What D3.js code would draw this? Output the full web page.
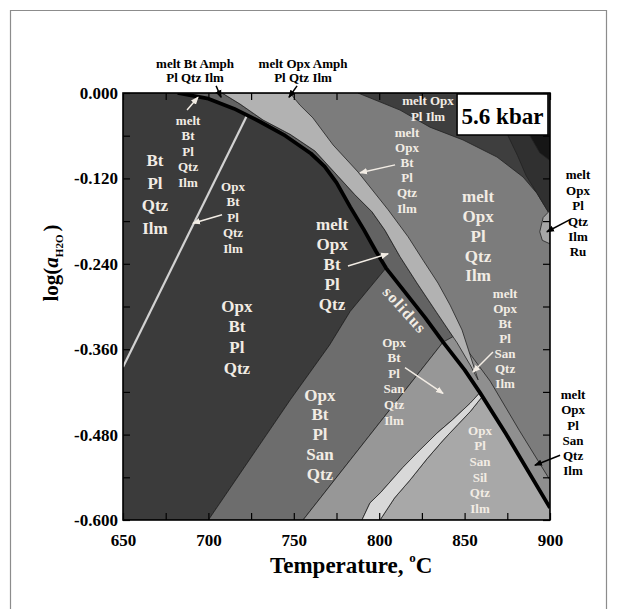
<!DOCTYPE html>
<html>
<head>
<meta charset="utf-8">
<script src="https://cdn.jsdelivr.net/npm/d3@7"></script>
<style>
  body { margin: 0; background: #fff; }
  svg text { font-family: "Liberation Serif", "Times New Roman", serif; font-weight: bold; }
</style>
</head>
<body>
<svg id="chart" width="617" height="609"></svg>
<script>
// ---- axes ----
const tempDomain = [650, 900];
const awDomain = [-0.6, 0];
const tempTicks = [650, 675, 700, 725, 750, 775, 800, 825, 850, 875, 900];
const awTicks = [0, -0.06, -0.12, -0.18, -0.24, -0.30, -0.36, -0.42, -0.48, -0.54, -0.60];
const pressureLabel = "5.6 kbar";

// ---- phase boundaries, [T (°C), log aH2O] ----
const solidusUpper = [[682, 0], [700, -0.008], [715, -0.022], [730, -0.040], [745, -0.060], [760, -0.085],
  [768, -0.103], [775, -0.126], [783, -0.160], [791, -0.192], [798, -0.222], [804, -0.246]];
const solidusLower = [[804, -0.246], [827, -0.316], [837.4, -0.350], [850, -0.389], [859, -0.421],
  [874, -0.478], [900, -0.583]];
const opxInLine = [[804, -0.246], [783, -0.307], [771, -0.354], [748, -0.431], [700, -0.6]];
const sanIlmLine = [[837.4, -0.350], [755.4, -0.6]];
const btMeltLower = [[708, 0], [718.5, -0.0155], [732, -0.038], [747.8, -0.058], [762.4, -0.0815],
  [775.9, -0.117], [785.8, -0.143], [795.8, -0.167], [803.4, -0.193], [812.2, -0.230], [822.1, -0.267],
  [833.8, -0.309], [845.6, -0.351], [853.2, -0.382], [857.9, -0.403]];
const btMeltUpper = [[747.8, 0], [753.6, -0.017], [761.2, -0.035], [773.0, -0.073], [787.6, -0.111],
  [805.2, -0.164], [816.9, -0.202], [825.7, -0.235], [834.4, -0.267], [841.5, -0.298], [848.5, -0.333],
  [853.2, -0.368], [857.9, -0.403]];
const sanMeltEdge = [[845, -0.340], [865, -0.405], [882, -0.474], [900, -0.544]];
const silBandLeft = [[789.9, -0.6], [794.6, -0.576], [801, -0.561], [813.9, -0.526], [822, -0.506],
  [833.8, -0.478], [843, -0.459], [853.2, -0.436], [859, -0.421]];
const silBandRight = [[860.2, -0.427], [853.2, -0.448], [846, -0.466], [837.4, -0.488], [828, -0.514],
  [818, -0.544], [809, -0.569], [800.5, -0.6]];
const plIlmEdge = [[787.6, 0], [812.2, -0.024], [829.7, -0.048], [849.1, -0.066], [869, -0.090],
  [884.2, -0.118], [892.4, -0.141], [898.2, -0.164], [900, -0.171]];
const plIlmInner = [[875, -0.058], [881, -0.088], [886, -0.116], [892.4, -0.141]];
const ruSliver = [[900, -0.165], [896, -0.175], [894, -0.195], [895.5, -0.207], [900, -0.212]];
const ilmThinField = [[650, -0.385], [722.5, -0.032]];

// ---- assemblage names ----
const nmBtPlQtzIlm = ["Bt", "Pl", "Qtz", "Ilm"];
const nmMeltBtPlQtzIlm = ["melt", "Bt", "Pl", "Qtz", "Ilm"];
const nmOpxBtPlQtzIlm = ["Opx", "Bt", "Pl", "Qtz", "Ilm"];
const nmOpxBtPlQtz = ["Opx", "Bt", "Pl", "Qtz"];
const nmMeltOpxBtPlQtz = ["melt", "Opx", "Bt", "Pl", "Qtz"];
const nmMeltOpxBtPlQtzIlm = ["melt", "Opx", "Bt", "Pl", "Qtz", "Ilm"];
const nmMeltOpxPlIlm = ["melt Opx", "Pl Ilm"];
const nmMeltOpxPlQtzIlm = ["melt", "Opx", "Pl", "Qtz", "Ilm"];
const nmMeltOpxBtPlSanQtzIlm = ["melt", "Opx", "Bt", "Pl", "San", "Qtz", "Ilm"];
const nmOpxBtPlSanQtzIlm = ["Opx", "Bt", "Pl", "San", "Qtz", "Ilm"];
const nmOpxBtPlSanQtz = ["Opx", "Bt", "Pl", "San", "Qtz"];
const nmOpxPlSanSilQtzIlm = ["Opx", "Pl", "San", "Sil", "Qtz", "Ilm"];
const nmMeltOpxPlQtzIlmRu = ["melt", "Opx", "Pl", "Qtz", "Ilm", "Ru"];
const nmMeltOpxPlSanQtzIlm = ["melt", "Opx", "Pl", "San", "Qtz", "Ilm"];
const nmMeltBtAmph = ["melt Bt Amph", "Pl Qtz Ilm"];
const nmMeltOpxAmph = ["melt Opx Amph", "Pl Qtz Ilm"];
const solidusName = "solidus";

// ---- drawing ----
const svg = d3.select("#chart");
const x = d3.scaleLinear().domain(tempDomain).range([123, 550]);
const y = d3.scaleLinear().domain(awDomain).range([520, 93]);
const line = d3.line().x(d => x(d[0])).y(d => y(d[1]));
const poly = pts => line(pts) + "Z";

// outer frame of the figure
svg.append("path")
  .attr("d", "M10.5,620V10.5H606.5V620")
  .attr("fill", "none").attr("stroke", "#8c8c8c").attr("stroke-width", 1.2);

const defs = svg.append("defs");
defs.append("clipPath").attr("id", "plotClip")
  .append("rect").attr("x", x(650)).attr("y", y(0)).attr("width", x(900) - x(650)).attr("height", y(-0.6) - y(0));
["white", "black"].forEach(c => {
  defs.append("marker").attr("id", "arrow-" + c)
    .attr("viewBox", "0 -4 8 8").attr("refX", 7).attr("refY", 0)
    .attr("markerUnits", "userSpaceOnUse").attr("markerWidth", 8).attr("markerHeight", 8)
    .attr("orient", "auto")
    .append("path").attr("d", "M0,-3.2L8,0L0,3.2Z").attr("fill", c === "white" ? "#f2ece4" : "#000");
});

const plot = svg.append("g").attr("clip-path", "url(#plotClip)");

// background field: melt Opx Pl Qtz Ilm
plot.append("rect").attr("x", x(650)).attr("y", y(0))
  .attr("width", x(900) - x(650)).attr("height", y(-0.6) - y(0)).attr("fill", "#7c7c7c");

const fields = [
  // melt Opx Bt Pl Qtz band above the solidus
  { pts: solidusUpper.concat(solidusLower.slice(1, 3), btMeltLower.slice(0, 13).reverse()), fill: "#636363" },
  // melt Opx Pl San Qtz Ilm strip
  { pts: sanMeltEdge.concat([[900, -0.583]], solidusLower.slice(2, 6).reverse()), fill: "#8f8f8f" },
  // melt Opx Bt Pl Qtz Ilm band
  { pts: btMeltLower.concat(btMeltUpper.slice(0, -1).reverse()), fill: "#b2b2b2" },
  // melt Opx Pl Ilm, high-T / high-aH2O corner
  { pts: plIlmEdge.concat([[900, 0]]), fill: "#3e3e3e" },
  { pts: plIlmInner.concat(plIlmEdge.slice(7), [[900, -0.058]]), fill: "#303030" },
  { pts: [[888, -0.059], [900, -0.059], [900, -0.095], [894, -0.084]], fill: "#161616" },
  { pts: ruSliver, fill: "#a6a6a6" },
  // sub-solidus Opx-absent field (Bt Pl Qtz (Ilm) and Opx Bt Pl Qtz)
  { pts: [[650, 0]].concat(solidusUpper, opxInLine.slice(1), [[650, -0.6]]), fill: "#3b3b3b" },
  // Opx Bt Pl San Qtz
  { pts: opxInLine.slice().reverse().concat(solidusLower.slice(1, 3), [sanIlmLine[1]]), fill: "#6d6d6d" },
  // Opx Bt Pl San Qtz Ilm
  { pts: [sanIlmLine[1], sanIlmLine[0]].concat(solidusLower.slice(3, 5), silBandLeft.slice().reverse()), fill: "#979797" },
  // Opx Pl San Sil Qtz Ilm
  { pts: silBandRight.slice().reverse().concat(solidusLower.slice(5), [[900, -0.6]]), fill: "#a8a8a8" },
  // narrow light band between them
  { pts: silBandLeft.concat(silBandRight), fill: "#d8d8d8" }
];

plot.selectAll("path.field").data(fields).join("path")
  .attr("class", "field")
  .attr("d", d => poly(d.pts))
  .attr("fill", d => d.fill)
  .attr("stroke", "#222").attr("stroke-width", 0.8).attr("stroke-linejoin", "round");

// degenerate Opx Bt Pl Qtz Ilm field
plot.append("path").attr("d", line(ilmThinField))
  .attr("stroke", "#d2d2d2").attr("stroke-width", 2.2).attr("fill", "none");

// solidus
plot.append("path").attr("d", line(solidusUpper.concat(solidusLower.slice(1))))
  .attr("fill", "none").attr("stroke", "#000").attr("stroke-width", 3.8)
  .attr("stroke-linejoin", "round");

// ---- axes (ticks on all four sides, pointing inward) ----
const fmtY = d => d.toFixed(3);
const axisFont = g => g.attr("font-family", null).attr("font-size", 17)
  .call(s => s.select(".domain").remove())
  .call(s => s.selectAll(".tick line").attr("stroke", "#000").attr("stroke-width", 1.2))
  .call(s => s.selectAll(".tick text").attr("fill", "#000"));

svg.append("g").attr("transform", `translate(0,${y(-0.6)})`)
  .call(d3.axisBottom(x).tickValues(tempTicks).tickSizeInner(-7).tickSizeOuter(0).tickPadding(14)
    .tickFormat((d, i) => i % 2 === 0 ? String(d) : ""))
  .call(axisFont);
svg.append("g").attr("transform", `translate(0,${y(0)})`)
  .call(d3.axisTop(x).tickValues(tempTicks).tickSizeInner(-7).tickSizeOuter(0).tickFormat(""))
  .call(axisFont);
svg.append("g").attr("transform", `translate(${x(650)},0)`)
  .call(d3.axisLeft(y).tickValues(awTicks).tickSizeInner(-7).tickSizeOuter(0).tickPadding(5)
    .tickFormat((d, i) => i % 2 === 0 ? fmtY(d) : ""))
  .call(axisFont);
svg.append("g").attr("transform", `translate(${x(900)},0)`)
  .call(d3.axisRight(y).tickValues(awTicks).tickSizeInner(-7).tickSizeOuter(0).tickFormat(""))
  .call(axisFont);

svg.append("rect").attr("x", x(650)).attr("y", y(0))
  .attr("width", x(900) - x(650)).attr("height", y(-0.6) - y(0))
  .attr("fill", "none").attr("stroke", "#000").attr("stroke-width", 1.6);

// axis titles
const yt = svg.append("text").attr("transform", "translate(58,263) rotate(-90)")
  .attr("text-anchor", "middle").attr("font-size", 21).attr("fill", "#000");
yt.append("tspan").text("log(");
yt.append("tspan").attr("font-style", "italic").text("a");
yt.append("tspan").attr("font-size", 11).attr("dy", 5).text("H2O");
yt.append("tspan").attr("dy", -5).attr("dx", 3).text(")");

const xt = svg.append("text").attr("x", 270).attr("y", 573)
  .attr("font-size", 23).attr("fill", "#000");
xt.append("tspan").text("Temperature, ");
xt.append("tspan").attr("font-size", 13).attr("dy", -11).text("o");
xt.append("tspan").attr("dy", 11).text("C");

// pressure box
svg.append("rect").attr("x", x(845.6)).attr("y", y(-0.0014))
  .attr("width", x(898.8) - x(845.6)).attr("height", y(-0.059) - y(-0.0014))
  .attr("fill", "#fff").attr("stroke", "#000").attr("stroke-width", 1.5);
svg.append("text").attr("x", (x(845.6) + x(898.8)) / 2).attr("y", y(-0.0014) + 30)
  .attr("text-anchor", "middle").attr("font-size", 23).attr("fill", "#000").text(pressureLabel);

// ---- field labels ----
const cream = "#f2ece4";
const labelLayout = [
  { names: nmBtPlQtzIlm, at: [668.7, -0.094], size: 17, lead: 22.7, color: cream },
  { names: nmMeltBtPlQtzIlm, at: [688.1, -0.038], size: 13, lead: 15.5, color: cream },
  { names: nmOpxBtPlQtzIlm, at: [714.4, -0.131], size: 13, lead: 15.5, color: cream },
  { names: nmOpxBtPlQtz, at: [716.7, -0.299], size: 17, lead: 20.7, color: cream },
  { names: nmMeltOpxBtPlQtz, at: [772.4, -0.184], size: 17, lead: 20, color: cream },
  { names: nmMeltOpxBtPlQtzIlm, at: [816.3, -0.055], size: 13, lead: 15.2, color: cream },
  { names: nmMeltOpxPlIlm, at: [828.6, -0.010], size: 13, lead: 16, color: cream },
  { names: nmMeltOpxPlQtzIlm, at: [857.9, -0.145], size: 17, lead: 19.8, color: cream },
  { names: nmMeltOpxBtPlSanQtzIlm, at: [873.7, -0.281], size: 13, lead: 15, color: cream },
  { names: nmOpxBtPlSanQtzIlm, at: [808.7, -0.350], size: 13, lead: 15.6, color: cream },
  { names: nmOpxBtPlSanQtz, at: [765.3, -0.424], size: 17, lead: 19.75, color: cream },
  { names: nmOpxPlSanSilQtzIlm, at: [859.0, -0.474], size: 13, lead: 15.6, color: cream },
  { names: nmMeltOpxPlQtzIlmRu, at: [916.4, -0.115], size: 13, lead: 15.4, color: "#000" },
  { names: nmMeltOpxPlSanQtzIlm, at: [913.5, -0.424], size: 13, lead: 15.2, color: "#000" },
  { names: nmMeltBtAmph, at: [692.2, 0.042], size: 13, lead: 14.5, color: "#000" },
  { names: nmMeltOpxAmph, at: [755.4, 0.042], size: 13, lead: 14.5, color: "#000" }
];

labelLayout.forEach(l => {
  const t = svg.append("text").attr("text-anchor", "middle")
    .attr("font-size", l.size).attr("fill", l.color);
  l.names.forEach((n, i) => {
    t.append("tspan").attr("x", x(l.at[0])).attr("y", y(l.at[1]) + i * l.lead)
      .attr("dy", "0.35em").text(n);
  });
});

svg.append("text").attr("transform", `translate(${x(815.1)},${y(-0.305)}) rotate(48)`)
  .attr("text-anchor", "middle").attr("dy", "0.35em")
  .attr("font-size", 16).attr("letter-spacing", 1.4).attr("fill", cream).text(solidusName);

// leader arrows [from, to] in data units
const arrows = [
  { from: [687.5, -0.024], to: [693.9, -0.006], c: "white" },
  { from: [708.0, -0.171], to: [691.0, -0.183], c: "white" },
  { from: [781.7, -0.243], to: [805.2, -0.226], c: "white" },
  { from: [809.3, -0.101], to: [788.8, -0.112], c: "white" },
  { from: [866.6, -0.364], to: [854.9, -0.392], c: "white" },
  { from: [815.1, -0.386], to: [837.4, -0.422], c: "white" },
  { from: [911.7, -0.178], to: [898.2, -0.195], c: "black" },
  { from: [905.9, -0.509], to: [891.2, -0.523], c: "black" },
  { from: [704.5, 0.010], to: [707.4, -0.006], c: "black" },
  { from: [751.9, 0.010], to: [747.2, -0.006], c: "black" }
];
svg.selectAll("line.leader").data(arrows).join("line")
  .attr("class", "leader")
  .attr("x1", d => x(d.from[0])).attr("y1", d => y(d.from[1]))
  .attr("x2", d => x(d.to[0])).attr("y2", d => y(d.to[1]))
  .attr("stroke", d => d.c === "white" ? cream : "#000").attr("stroke-width", 1.5)
  .attr("marker-end", d => `url(#arrow-${d.c})`);
</script>
</body>
</html>
